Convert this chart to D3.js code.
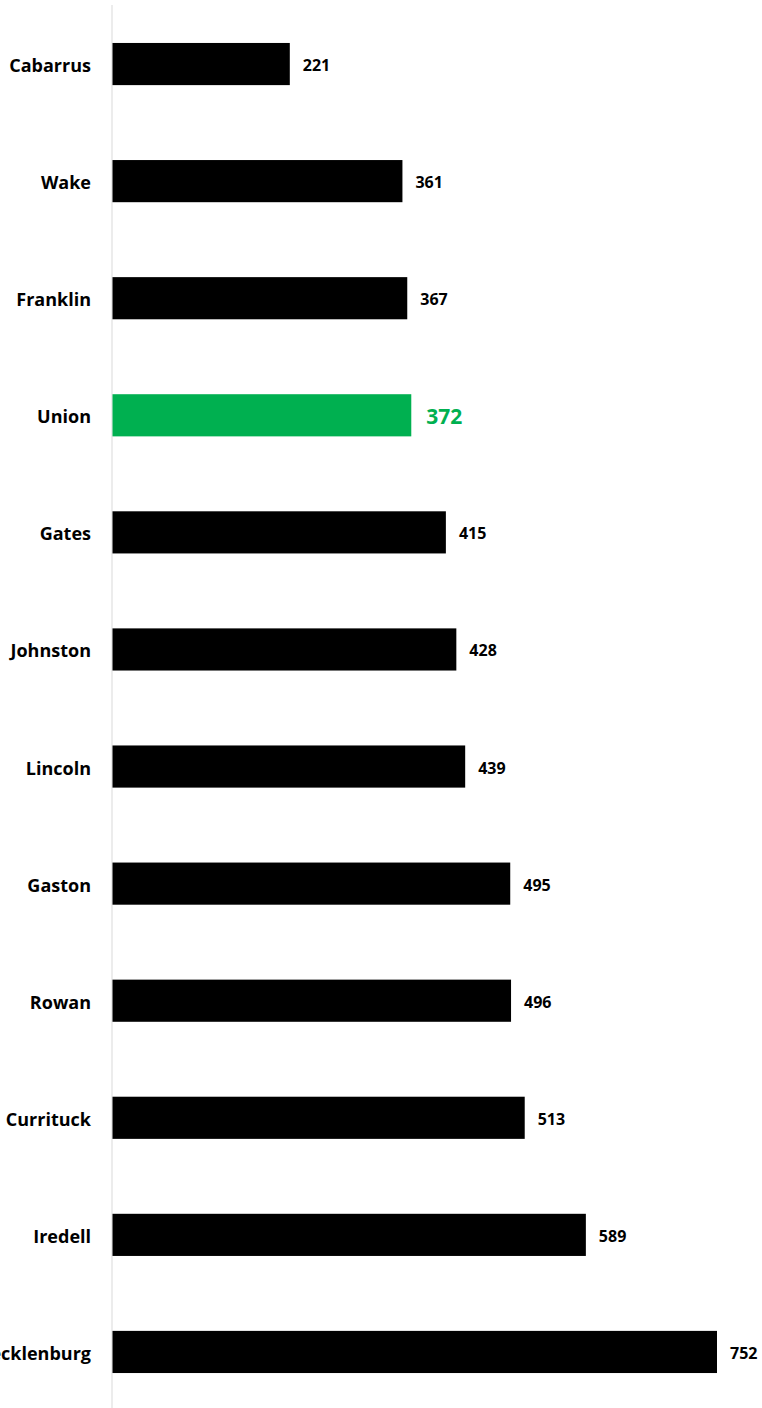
<!DOCTYPE html>
<html><head><meta charset="utf-8">
<script src="https://cdn.jsdelivr.net/npm/d3@7"></script>
<style>html,body{margin:0;padding:0;background:#fff;}svg{display:block;}</style>
</head><body>
<svg id="chart" width="762" height="1408"></svg>
<script>
const categories = ["Cabarrus","Wake","Franklin","Union","Gates","Johnston","Lincoln","Gaston","Rowan","Currituck","Iredell","Mecklenburg"];
const values = [221,361,367,372,415,428,439,495,496,513,589,752];
const highlight = "Union";

const svg = d3.select("#chart");
const x0 = 112;
const x = d3.scaleLinear().domain([0, 752]).range([x0, 717]);
const y = d3.scaleBand().domain(categories).range([5.5, 1410.5]).paddingInner(0.64).paddingOuter(0.32);

svg.append("line").attr("x1", x0).attr("x2", x0).attr("y1", 5).attr("y2", 1408)
  .attr("stroke", "#d9d9d9").attr("stroke-width", 1);

const data = categories.map((c,i)=>({c, v: values[i]}));

svg.selectAll("rect.bar").data(data).enter().append("rect")
  .attr("x", x(0) + 0.5).attr("y", d => y(d.c))
  .attr("width", d => x(d.v) - x(0) - 0.5).attr("height", y.bandwidth())
  .attr("fill", d => d.c === highlight ? "#00b050" : "#000");

svg.selectAll("text.cat").data(data).enter().append("text")
  .attr("x", 91).attr("y", d => y(d.c) + y.bandwidth()/2 + 1)
  .attr("text-anchor", "end").attr("dominant-baseline", "central")
  .attr("font-family", "'Open Sans', sans-serif").attr("font-weight", "bold")
  .attr("font-size", 18).attr("fill", "#000").text(d => d.c);

svg.selectAll("text.val").data(data).enter().append("text")
  .attr("x", d => x(d.v) + (d.c === highlight ? 15 : 13))
  .attr("y", d => y(d.c) + y.bandwidth()/2 + 1)
  .attr("dominant-baseline", "central")
  .attr("font-family", "'Open Sans', sans-serif").attr("font-weight", "bold")
  .attr("font-size", d => d.c === highlight ? 21 : 16)
  .attr("fill", d => d.c === highlight ? "#00b050" : "#000").text(d => d.v);
</script>
</body></html>
